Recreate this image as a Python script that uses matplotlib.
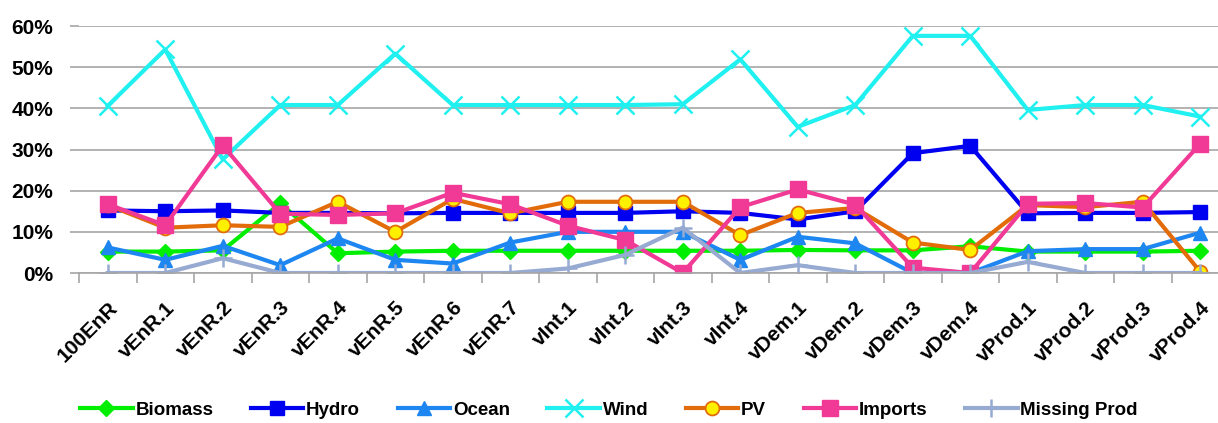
import matplotlib.pyplot as plt
import matplotlib.transforms as mtransforms
import numpy as np

# scenario names along the x axis
scenarios = ["100EnR", "vEnR.1", "vEnR.2", "vEnR.3", "vEnR.4", "vEnR.5", "vEnR.6",
             "vEnR.7", "vInt.1", "vInt.2", "vInt.3", "vInt.4", "vDem.1", "vDem.2",
             "vDem.3", "vDem.4", "vProd.1", "vProd.2", "vProd.3", "vProd.4"]

# shares in percent
biomass = [5.2, 5.2, 5.5, 16.9, 4.8, 5.2, 5.4, 5.4, 5.4, 5.4, 5.4, 5.4, 5.6, 5.5,
           5.5, 6.5, 5.2, 5.2, 5.2, 5.4]
hydro = [15.2, 15.0, 15.2, 14.6, 14.6, 14.5, 14.6, 14.6, 14.6, 14.6, 15.0, 14.6, 13.0,
         15.0, 29.1, 30.9, 14.5, 14.6, 14.6, 14.8]
ocean = [6.2, 3.2, 6.6, 1.9, 8.4, 3.2, 2.3, 7.4, 10.0, 10.0, 10.0, 3.2, 8.8, 7.2,
         0.0, 0.0, 5.3, 5.8, 5.8, 9.8]
wind = [40.6, 54.3, 27.6, 40.8, 40.8, 53.3, 40.8, 40.8, 40.8, 40.8, 41.0, 51.9, 35.5,
        40.8, 57.6, 57.6, 39.6, 40.8, 40.8, 38.0]
pv = [16.5, 11.0, 11.6, 11.2, 17.3, 10.0, 18.0, 14.5, 17.3, 17.3, 17.3, 9.2, 14.6,
      15.8, 7.4, 5.6, 16.5, 16.0, 17.3, 0.3]
imports = [16.7, 11.6, 31.0, 14.4, 14.1, 14.5, 19.5, 16.7, 11.5, 8.0, 0.0, 16.0, 20.3,
           16.6, 1.3, 0.0, 16.8, 17.0, 15.9, 31.4]
missing = [0.0, 0.0, 3.6, 0.0, 0.0, 0.0, 0.0, 0.0, 1.1, 4.4, 11.0, 0.0, 1.9, 0.0,
           0.0, 0.0, 2.7, 0.0, 0.0, 0.0]

plt.rcParams['font.family'] = ['Liberation Sans', 'DejaVu Sans']
plt.rcParams['font.weight'] = 'bold'

fig = plt.figure(figsize=(12.18, 4.23), dpi=100)
ax = fig.add_axes([79/1218, 1 - 273/423, 1150/1218, 247/423])

x = np.arange(len(scenarios))
lw = 3.0
ax.plot(x, np.array(biomass)/100, color="#00EE00", lw=lw, marker="D", ms=8,
        mfc="#00EE00", mec="#00EE00", label="Biomass")
ax.plot(x, np.array(hydro)/100, color="#0000F0", lw=lw, marker="s", ms=10,
        mfc="#0000F0", mec="#0000F0", label="Hydro")
ax.plot(x, np.array(ocean)/100, color="#1E86F0", lw=lw, marker="^", ms=10,
        mfc="#1E86F0", mec="#1E86F0", label="Ocean")
ax.plot(x, np.array(wind)/100, color="#20F0F0", lw=lw, marker="x", ms=13, mew=1.8,
        label="Wind")
ax.plot(x, np.array(pv)/100, color="#E36C0A", lw=lw, marker="o", ms=10,
        mfc="#FFF000", mec="#E36C0A", mew=1.3, label="PV")
ax.plot(x, np.array(imports)/100, color="#F03A96", lw=lw, marker="s", ms=11,
        mfc="#F03A96", mec="#F03A96", label="Imports")
ax.plot(x, np.array(missing)/100, color="#96AAD2", lw=lw, marker="+", ms=13, mew=1.8,
        label="Missing Prod")

ax.set_xlim(-0.5, len(scenarios) - 0.5)
ax.set_ylim(0, 0.6)
ax.set_yticks(np.arange(0, 0.61, 0.1))
ax.set_yticklabels([f"{int(round(v*100))}%" for v in np.arange(0, 0.61, 0.1)],
                   fontsize=15, fontweight="bold")
ax.yaxis.grid(True, color="#A6A6A6", lw=1.2)
ax.set_axisbelow(True)

ax.set_xticks(x)
ax.set_xticklabels(scenarios, rotation=45, ha="right", rotation_mode="anchor",
                   fontsize=15, fontweight="bold")
# nudge the rotated labels slightly right
shift = mtransforms.ScaledTranslation(3/100, 0, fig.dpi_scale_trans)
for lab in ax.get_xticklabels():
    lab.set_transform(lab.get_transform() + shift)
ax.set_xticks(np.arange(-0.5, len(scenarios), 1), minor=True)
ax.tick_params(axis="x", which="major", length=0, pad=18)
ax.tick_params(axis="x", which="minor", length=7, width=1.2, color="#A6A6A6")
ax.tick_params(axis="y", length=6.5, width=1.2, color="#A6A6A6", pad=12)

for s in ["top", "right", "left"]:
    ax.spines[s].set_visible(False)
ax.spines["bottom"].set_color("#A6A6A6")
ax.spines["bottom"].set_linewidth(1.2)

fig.legend(loc="center", bbox_to_anchor=(0.5, 13/423), ncol=7, frameon=False,
           handlelength=2.8, columnspacing=2.0, handletextpad=0.15,
           prop={"weight": "bold", "size": 13.5})

fig.savefig("out.png", dpi=100)
